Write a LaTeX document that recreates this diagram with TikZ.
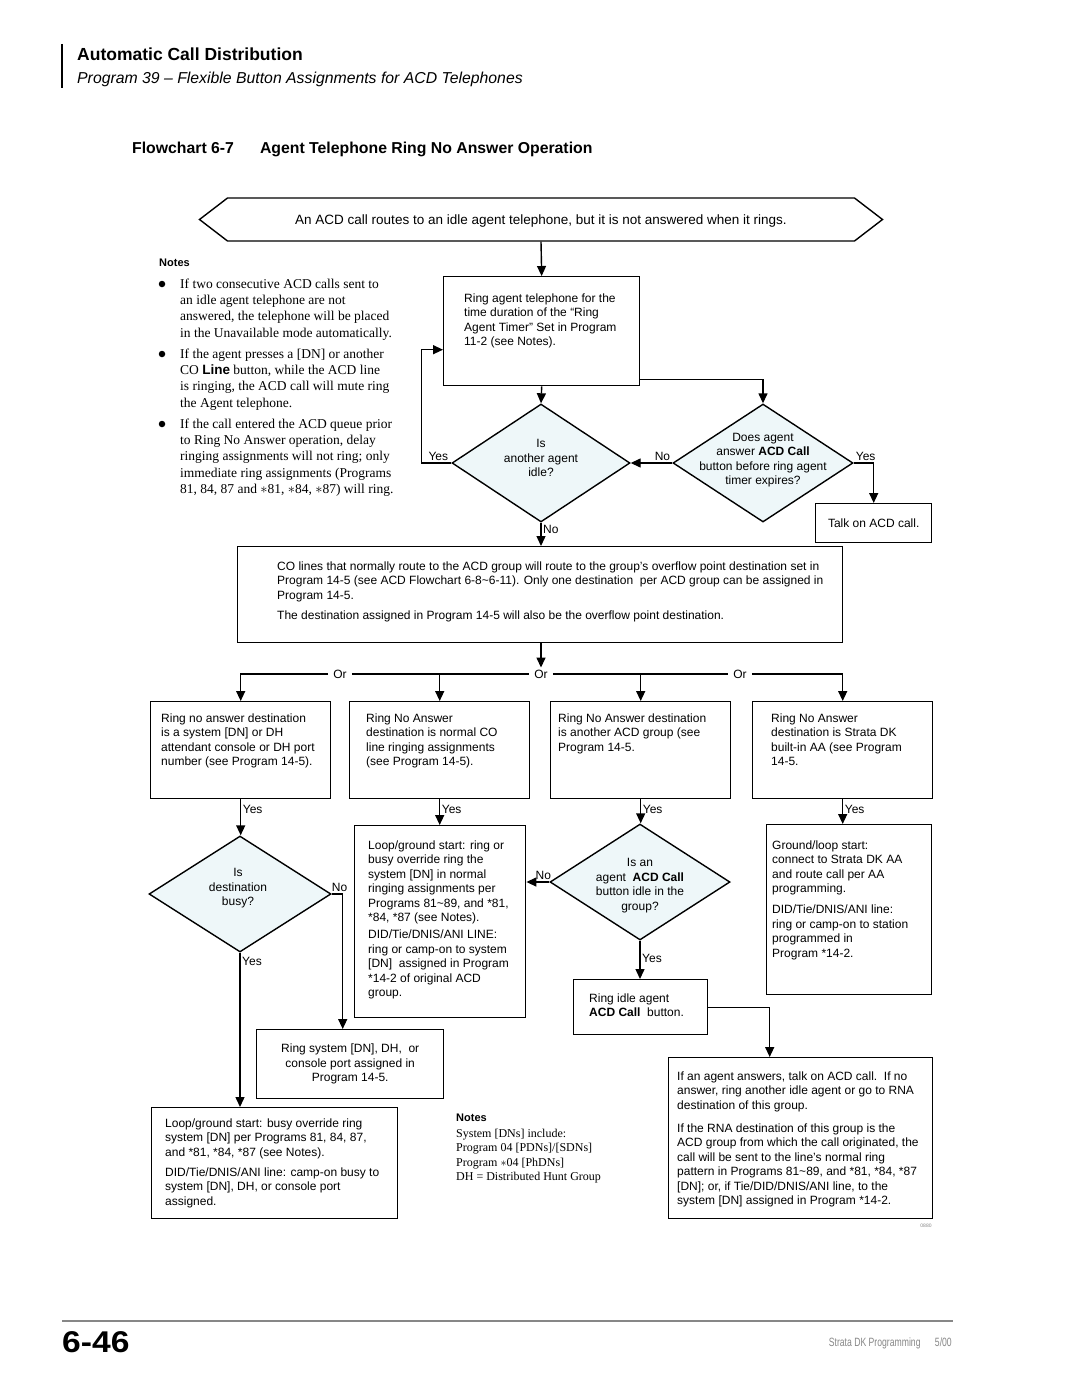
\documentclass[tikz,border=0pt]{standalone}
\usepackage{fontspec}
\setmainfont{Liberation Serif}
\setsansfont{Liberation Sans}
\usepackage{graphicx}
\usepackage{tikz}
\usetikzlibrary{calc, arrows.meta, shapes.geometric, shapes.symbols}

\definecolor{diafill}{RGB}{238,247,249}
\definecolor{footgray}{RGB}{135,135,135}

\tikzset{
  box/.style={draw, line width=1.4pt, rectangle, inner sep=0pt, anchor=north west,
    font=\sffamily\fontsize{12}{14.5}\selectfont, align=center},
  dia/.style={draw, line width=1.4pt, diamond, inner sep=0pt, fill=diafill},
  txt/.style={font=\sffamily\fontsize{12}{14.5}\selectfont, align=left, inner sep=0pt, anchor=north west},
  ctxt/.style={font=\sffamily\fontsize{12}{14.5}\selectfont, align=center, inner sep=0pt},
  lbl/.style={font=\sffamily\fontsize{12}{14.5}\selectfont, inner sep=2pt},
  note/.style={font=\rmfamily\fontsize{13.5}{16.3}\selectfont, align=left, inner sep=0pt, anchor=north west},
  flow/.style={line width=1.4pt, -{Triangle[length=10pt,width=9pt]}},
  wire/.style={line width=1.4pt},
}

\begin{document}
\begin{tikzpicture}[x=1pt, y=-1pt]

% page
\fill[white] (0,0) rectangle (1080,1397);
\useasboundingbox (0,0) rectangle (1080,1397);

% Draw the running head
\draw[line width=1.2pt] (62,44) -- (62,88);
\node[anchor=west, inner sep=0pt, font=\sffamily\bfseries\fontsize{17.5}{21}\selectfont] (chap) at (77,54) {Automatic Call Distribution};
\node[anchor=west, inner sep=0pt, font=\sffamily\itshape\fontsize{15.8}{19}\selectfont] (sect) at (77,79) {Program 39 -- Flexible Button Assignments for ACD Telephones};
\node[anchor=west, inner sep=0pt, font=\sffamily\bfseries\fontsize{15.8}{19}\selectfont] (fctitle) at (132,149.5) {Flowchart 6-7\hspace{26pt}Agent Telephone Ring No Answer Operation};

% Draw the start banner
\node[draw, line width=1.4pt, signal, signal to=west and east, signal pointer angle=75,
  minimum width=683pt, minimum height=43pt, inner sep=0pt, text depth=0pt,
  font=\sffamily\fontsize{13.5}{16}\selectfont] (start) at (541,219.5)
  {An ACD call routes to an idle agent telephone, but it is not answered when it rings.};

% Add the notes on the left
\node[anchor=west, inner sep=0pt, font=\sffamily\bfseries\fontsize{11}{13}\selectfont] (notes) at (159,263) {Notes};
\node[circle, fill, inner sep=0pt, minimum size=6.5pt] (dot1) at (162,284) {};
\node[note] (note1) at (180,278.5) {If two consecutive ACD calls sent to\\an idle agent telephone are not\\answered, the telephone will be placed\\in the Unavailable mode automatically.};
\node[circle, fill, inner sep=0pt, minimum size=6.5pt] (dot2) at (162,354) {};
\node[note] (note2) at (180,348.5) {If the agent presses a [DN] or another\\CO {\sffamily\bfseries Line} button, while the ACD line\\is ringing, the ACD call will mute ring\\the Agent telephone.};
\node[circle, fill, inner sep=0pt, minimum size=6.5pt] (dot3) at (162,424) {};
\node[note] (note3) at (180,418.5) {If the call entered the ACD queue prior\\to Ring No Answer operation, delay\\ringing assignments will not ring; only\\immediate ring assignments (Programs\\81, 84, 87 and $\ast$81, $\ast$84, $\ast$87) will ring.};

% Draw the ring agent loop
\node[box, minimum width=196pt, minimum height=109pt] (ring) at (443,276) {};
\node[txt] (ring-t) at (464,293.5) {Ring agent telephone for the\\time duration of the “Ring\\Agent Timer” Set in Program\\11-2 (see Notes).};

\node[dia, minimum width=178pt, minimum height=118pt] (idle) at (541,463) {};
\node[ctxt] (idle-t) at (541,458) {Is\\another agent\\idle?};
\node[dia, minimum width=180pt, minimum height=118pt] (answer) at (763,463) {};
\node[ctxt] (answer-t) at (763,460) {Does agent\\answer \textbf{ACD Call}\\button before ring agent\\timer expires?};
\node[box, minimum width=116pt, minimum height=39pt] (talk) at (815,503) {Talk on ACD call.};

\draw[flow] (start.south) -- (ring.north);
\draw[flow] (ring.south) -- (idle.north);
\draw[flow] ([yshift=7pt]ring.south east) -| (answer.north);
\draw[flow] (answer.west) -- (idle.east);
\node[lbl, anchor=south east] (no1) at (answer.west) {No};
\draw[flow] (answer.east) -| (talk.north);
\node[lbl, anchor=south west] (yes1) at (answer.east) {Yes};
\draw[flow] (idle.west) -- ++(-30,0) |- ([yshift=-18.5pt]ring.west);
\node[lbl, anchor=south east] (yes2) at ([xshift=-1pt]idle.west) {Yes};

% Draw the overflow box
\node[box, minimum width=605pt, minimum height=96pt] (overflow) at (237,546) {};
\node[txt] (overflow-t) at (277,561.5) {CO lines that normally route to the ACD group will route to the group’s overflow point destination set in\\Program 14-5 (see ACD Flowchart 6-8\textasciitilde 6-11). Only one destination\ \ per ACD group can be assigned in\\Program 14-5.\\[5.5pt]The destination assigned in Program 14-5 will also be the overflow point destination.};
\draw[flow] (idle.south) -- (idle.south |- overflow.north);
\node[lbl, anchor=north west] (no2) at (idle.south) {No};

% Add the Or branches
\node[lbl, inner xsep=5pt] (orA) at (340,674) {Or};
\node[lbl, inner xsep=5pt] (orB) at (541,674) {Or};
\node[lbl, inner xsep=5pt] (orC) at (740,674) {Or};

\node[box, minimum width=180pt, minimum height=97pt] (dnbox) at (150,701) {};
\node[txt] (dnbox-t) at (161,713.5) {Ring no answer destination\\is a system [DN] or DH\\attendant console or DH port\\number (see Program 14-5).};
\node[box, minimum width=180pt, minimum height=97pt] (cobox) at (349,701) {};
\node[txt] (cobox-t) at (366,713.5) {Ring No Answer\\destination is normal CO\\line ringing assignments\\(see Program 14-5).};
\node[box, minimum width=180pt, minimum height=97pt] (acdbox) at (550,701) {};
\node[txt] (acdbox-t) at (558,713.5) {Ring No Answer destination\\is another ACD group (see\\Program 14-5.};
\node[box, minimum width=180pt, minimum height=97pt] (aabox) at (752,701) {};
\node[txt] (aabox-t) at (771,713.5) {Ring No Answer\\destination is Strata DK\\built-in AA (see Program\\14-5.};

\draw[flow] (orB |- overflow.south) -- (orB.north);
\draw[flow] (orA.west) -| (dnbox.north);
\draw[wire] (orA.east) -- (orB.west);
\draw[flow] (cobox.north |- orA) -- (cobox.north);
\draw[wire] (orB.east) -- (orC.west);
\draw[flow] (acdbox.north |- orB) -- (acdbox.north);
\draw[flow] (orC.east) -| (aabox.north);

% Draw the second row
\node[dia, minimum width=182pt, minimum height=116pt] (busy) at (240,894) {};
\node[ctxt] (busy-t) at (238,888.5) {Is\\destination\\busy?};
\node[box, minimum width=171pt, minimum height=192pt] (loopbox) at (354,825) {};
\node[txt] (loopbox-t) at (368,840.5) {Loop/ground start: ring or\\busy override ring the\\system [DN] in normal\\ringing assignments per\\Programs 81\textasciitilde 89, and *81,\\*84, *87 (see Notes).\\[2.5pt]DID/Tie/DNIS/ANI LINE:\\ring or camp-on to system\\{[DN]}\ \ assigned in Program\\*14-2 of original ACD\\group.};
\node[dia, minimum width=180pt, minimum height=116pt] (agentidle) at (640,882) {};
\node[ctxt] (agentidle-t) at (640,885.5) {Is an\\agent\ \ \textbf{ACD Call}\\button idle in the\\group?};
\node[box, minimum width=165pt, minimum height=170pt] (aaloop) at (766,824) {};
\node[txt] (aaloop-t) at (772,840.5) {Ground/loop start:\\connect to Strata DK AA\\and route call per AA\\programming.\\[6.5pt]DID/Tie/DNIS/ANI line:\\ring or camp-on to station\\programmed in\\Program *14-2.};
\node[box, minimum width=134pt, minimum height=55pt] (ringidle) at (573,979) {};
\node[txt] (ringidle-t) at (589,993.5) {Ring idle agent\\\textbf{ACD Call}\ \ button.};

\draw[flow] (dnbox.south) -- (dnbox.south |- busy.north);
\node[lbl, anchor=west] (yes3) at ($(dnbox.south)+(0,10)$) {Yes};
\draw[flow] (cobox.south) -- (cobox.south |- loopbox.north);
\node[lbl, anchor=west] (yes4) at ($(cobox.south)+(0,10)$) {Yes};
\draw[flow] (acdbox.south) -- (acdbox.south |- agentidle.north);
\node[lbl, anchor=west] (yes5) at ($(acdbox.south)+(0,10)$) {Yes};
\draw[flow] (aabox.south) -- (aabox.south |- aaloop.north);
\node[lbl, anchor=west] (yes6) at ($(aabox.south)+(0,10)$) {Yes};

\draw[flow] (agentidle.west) -- (agentidle.west -| loopbox.east);
\node[lbl, anchor=south] (no3) at ([xshift=-6pt]agentidle.west) {No};
\draw[flow] (agentidle.south) -- (agentidle.south |- ringidle.north);
\node[lbl, anchor=west] (yes7) at ($(agentidle.south)+(0,18)$) {Yes};

% Draw the bottom row
\node[box, minimum width=187pt, minimum height=69pt] (ringsys) at (256,1029) {Ring system [DN], DH,\ \ or\\console port assigned in\\Program 14-5.};
\node[box, minimum width=246pt, minimum height=111pt] (busyovr) at (151,1107) {};
\node[txt] (busyovr-t) at (165,1118.5) {Loop/ground start: busy override ring\\system [DN] per Programs 81, 84, 87,\\and *81, *84, *87 (see Notes).\\[5.5pt]DID/Tie/DNIS/ANI line: camp-on busy to\\system [DN], DH, or console port\\assigned.};
\node[box, minimum width=264pt, minimum height=161pt] (rnabox) at (668,1057) {};
\node[txt] (rnabox-t) at (677,1071.5) {If an agent answers, talk on ACD call.\ \ If no\\answer, ring another idle agent or go to RNA\\destination of this group.\\[8.5pt]If the RNA destination of this group is the\\ACD group from which the call originated, the\\call will be sent to the line’s normal ring\\pattern in Programs 81\textasciitilde 89, and *81, *84, *87\\{[DN]}; or, if Tie/DID/DNIS/ANI line, to the\\system [DN] assigned in Program *14-2.};

\draw[flow] (busy.east) -| ([xshift=-7.5pt]ringsys.north);
\node[lbl, anchor=south west] (no4) at ([xshift=-2pt]busy.east) {No};
\draw[flow] (busy.south) -- (busy.south |- busyovr.north);
\node[lbl, anchor=north west] (yes8) at ([yshift=-2pt]busy.south) {Yes};
\draw[flow] (ringidle.east) -| ([xshift=-31pt]rnabox.north);

% Add the notes at the bottom
\node[anchor=west, inner sep=0pt, font=\sffamily\bfseries\fontsize{11}{13}\selectfont] (notes2) at (456,1118) {Notes};
\node[anchor=north west, inner sep=0pt, align=left, font=\rmfamily\fontsize{12}{14.5}\selectfont] (notes2-t) at (456,1128.5) {System [DNs] include:\\Program 04 [PDNs]/[SDNs]\\Program $\ast$04 [PhDNs]\\DH = Distributed Hunt Group};
\node[inner sep=0pt, text=footgray, font=\sffamily\fontsize{5}{6}\selectfont] (figno) at (926,1226) {0880};

% Draw the page foot
\draw[footgray, line width=2pt] (62,1321) -- (953,1321);
\node[anchor=west, inner sep=0pt, font=\sffamily\bfseries\fontsize{30}{34}\selectfont] (pageno) at (62,1342) {\scalebox{1.12}[1]{6-46}};
\node[anchor=east, inner sep=0pt, text=footgray, font=\sffamily\fontsize{12}{14}\selectfont] (foot) at (952,1343) {\scalebox{0.72}[1]{Strata DK Programming\hspace{20pt}5/00}};

\end{tikzpicture}
\end{document}
